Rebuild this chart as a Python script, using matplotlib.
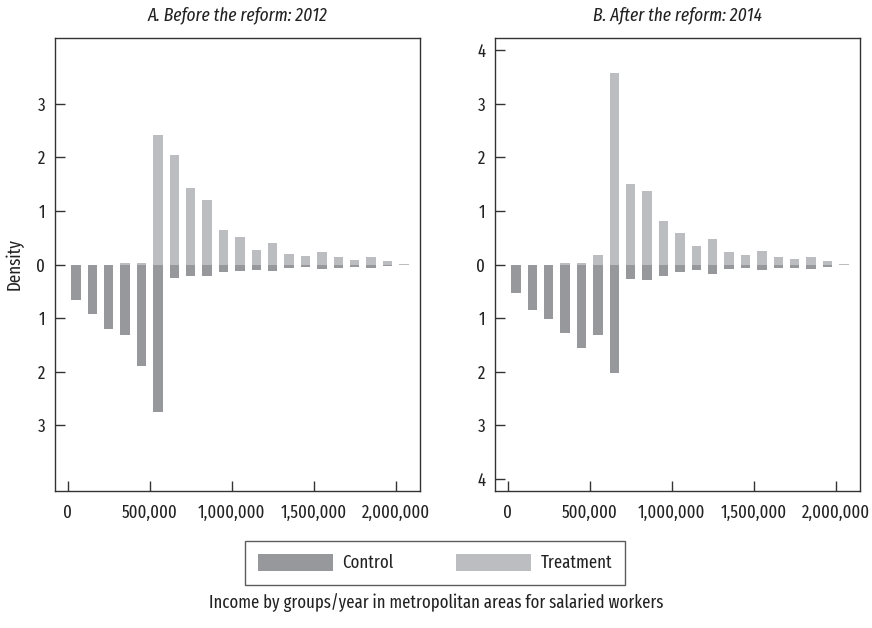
import numpy as np
import matplotlib
matplotlib.use("Agg")
import matplotlib.pyplot as plt
from matplotlib import font_manager
from matplotlib.font_manager import FontProperties
from matplotlib.textpath import TextToPath
from matplotlib.ticker import FuncFormatter
from matplotlib.patches import Patch

# income group centers (pesos/year)
bins = np.arange(50000, 2150000, 100000)

# panel A: 2012
control_2012 = [0.67, 0.93, 1.21, 1.32, 1.90, 2.76, 0.26, 0.22, 0.22, 0.14, 0.12,
                0.11, 0.12, 0.07, 0.05, 0.09, 0.07, 0.05, 0.07, 0.03, 0.01]
treat_2012 = [0.0, 0.0, 0.0, 0.03, 0.03, 2.42, 2.04, 1.43, 1.20, 0.64, 0.51,
              0.27, 0.40, 0.19, 0.16, 0.23, 0.14, 0.08, 0.14, 0.06, 0.005]

# panel B: 2014
control_2014 = [0.53, 0.85, 1.02, 1.28, 1.56, 1.32, 2.03, 0.27, 0.29, 0.22, 0.14,
                0.11, 0.18, 0.09, 0.07, 0.11, 0.07, 0.07, 0.09, 0.05, 0.01]
treat_2014 = [0.0, 0.0, 0.0, 0.03, 0.03, 0.17, 3.57, 1.50, 1.37, 0.81, 0.58,
              0.34, 0.47, 0.23, 0.17, 0.25, 0.14, 0.10, 0.14, 0.06, 0.005]

titles = ["A. Before the reform: 2012", "B. After the reform: 2014"]
yticks = [[-3, -2, -1, 0, 1, 2, 3], [-4, -3, -2, -1, 0, 1, 2, 3, 4]]
xticks = [0, 500000, 1000000, 1500000, 2000000]
footer = "Income by groups/year in metropolitan areas for salaried workers"

# pick the narrowest regular sans font that is installed
weights = ["Bold", "Light", "Thin", "Black", "Medium", "SemiBold", "ExtraBold", "ExtraLight", "Heavy"]
best, best_score = None, 0
for f in font_manager.fontManager.ttflist:
    nm = f.name
    if "Mono" in nm or "Serif" in nm or any(w in nm for w in weights):
        continue
    score = 0
    if "ExtraCondensed" in nm or "Extra Condensed" in nm:
        score = 3
    elif "Condensed" in nm or "Narrow" in nm or f.stretch == "condensed":
        score = 2
    elif "SemiCondensed" in nm:
        score = 1
    if score > best_score:
        best, best_score = nm, score
fam = best if best else "Roboto"
plt.rcParams['font.family'] = [fam, 'DejaVu Sans']
if best:
    plt.rcParams['font.stretch'] = 'condensed'

t2p = TextToPath()
def fit(s, px, cap, style="normal"):
    # font size (pt) that gives the text the width seen in the reference
    prop = FontProperties(family=[fam, 'DejaVu Sans'], style=style, size=10,
                          stretch='condensed' if best else 'normal')
    w, h, d = t2p.get_text_width_height_descent(s, prop, ismath=False)
    return min(cap, 10 * (px * 0.72) / w)

sz = dict(tick=fit("2,000,000", 68, 15),
          title=fit(titles[0], 180, 15, "italic"),
          lab=fit("Density", 52, 15),
          leg=fit("Treatment", 71, 15),
          foot=fit(footer, 452, 15))

c_control = "#97989c"
c_treat = "#bcbdc1"
spine_c = "#333333"
txt_c = "#222222"

fig = plt.figure(figsize=(8.72, 6.28), dpi=100)
ax1 = fig.add_axes([55/872, 1-491/628, 365/872, 453/628])
ax2 = fig.add_axes([495/872, 1-491/628, 365/872, 453/628])

data = [(control_2012, treat_2012), (control_2014, treat_2014)]
for i, ax in enumerate([ax1, ax2]):
    ctrl, trt = data[i]
    ax.bar(bins, -np.array(ctrl), width=57000, color=c_control, zorder=2)
    ax.bar(bins, trt, width=57000, color=c_treat, zorder=2)
    ax.set_xlim(-77000, 2148000)
    ax.set_ylim(-4.23, 4.23)
    ax.set_yticks(yticks[i])
    ax.set_xticks(xticks)
    ax.yaxis.set_major_formatter(FuncFormatter(lambda v, p: f"{abs(int(round(v)))}"))
    ax.xaxis.set_major_formatter(FuncFormatter(lambda v, p: f"{int(v):,}"))
    ax.tick_params(direction="in", length=7, width=1, color=spine_c,
                   labelsize=sz['tick'], pad=9, labelcolor=txt_c)
    ax.tick_params(axis="y", pad=7)
    for s in ax.spines.values():
        s.set_color(spine_c)
        s.set_linewidth(1)
    ax.set_title(titles[i], fontstyle="italic", fontsize=sz['title'], pad=13, color=txt_c)

ax1.set_ylabel("Density", fontsize=sz['lab'], color=txt_c)
ax1.yaxis.set_label_coords((24 - 55) / 365, 0.5)

handles = [Patch(facecolor=c_control, label="Control"),
           Patch(facecolor=c_treat, label="Treatment")]
leg_px = sz['leg'] * 100 / 72
leg = fig.legend(handles=handles, loc="center", bbox_to_anchor=(435/872, 1-563/628),
                 ncol=2, fontsize=sz['leg'], frameon=True, fancybox=False,
                 handlelength=75/leg_px, handleheight=19/leg_px, handletextpad=10/leg_px,
                 columnspacing=62/leg_px, borderpad=0.7, labelcolor=txt_c)
leg.get_frame().set_edgecolor(spine_c)
leg.get_frame().set_linewidth(1)

fig.text(436/872, 1-603/628, footer, ha="center", va="center",
         fontsize=sz['foot'], color=txt_c)

fig.savefig("out.png", dpi=100)
